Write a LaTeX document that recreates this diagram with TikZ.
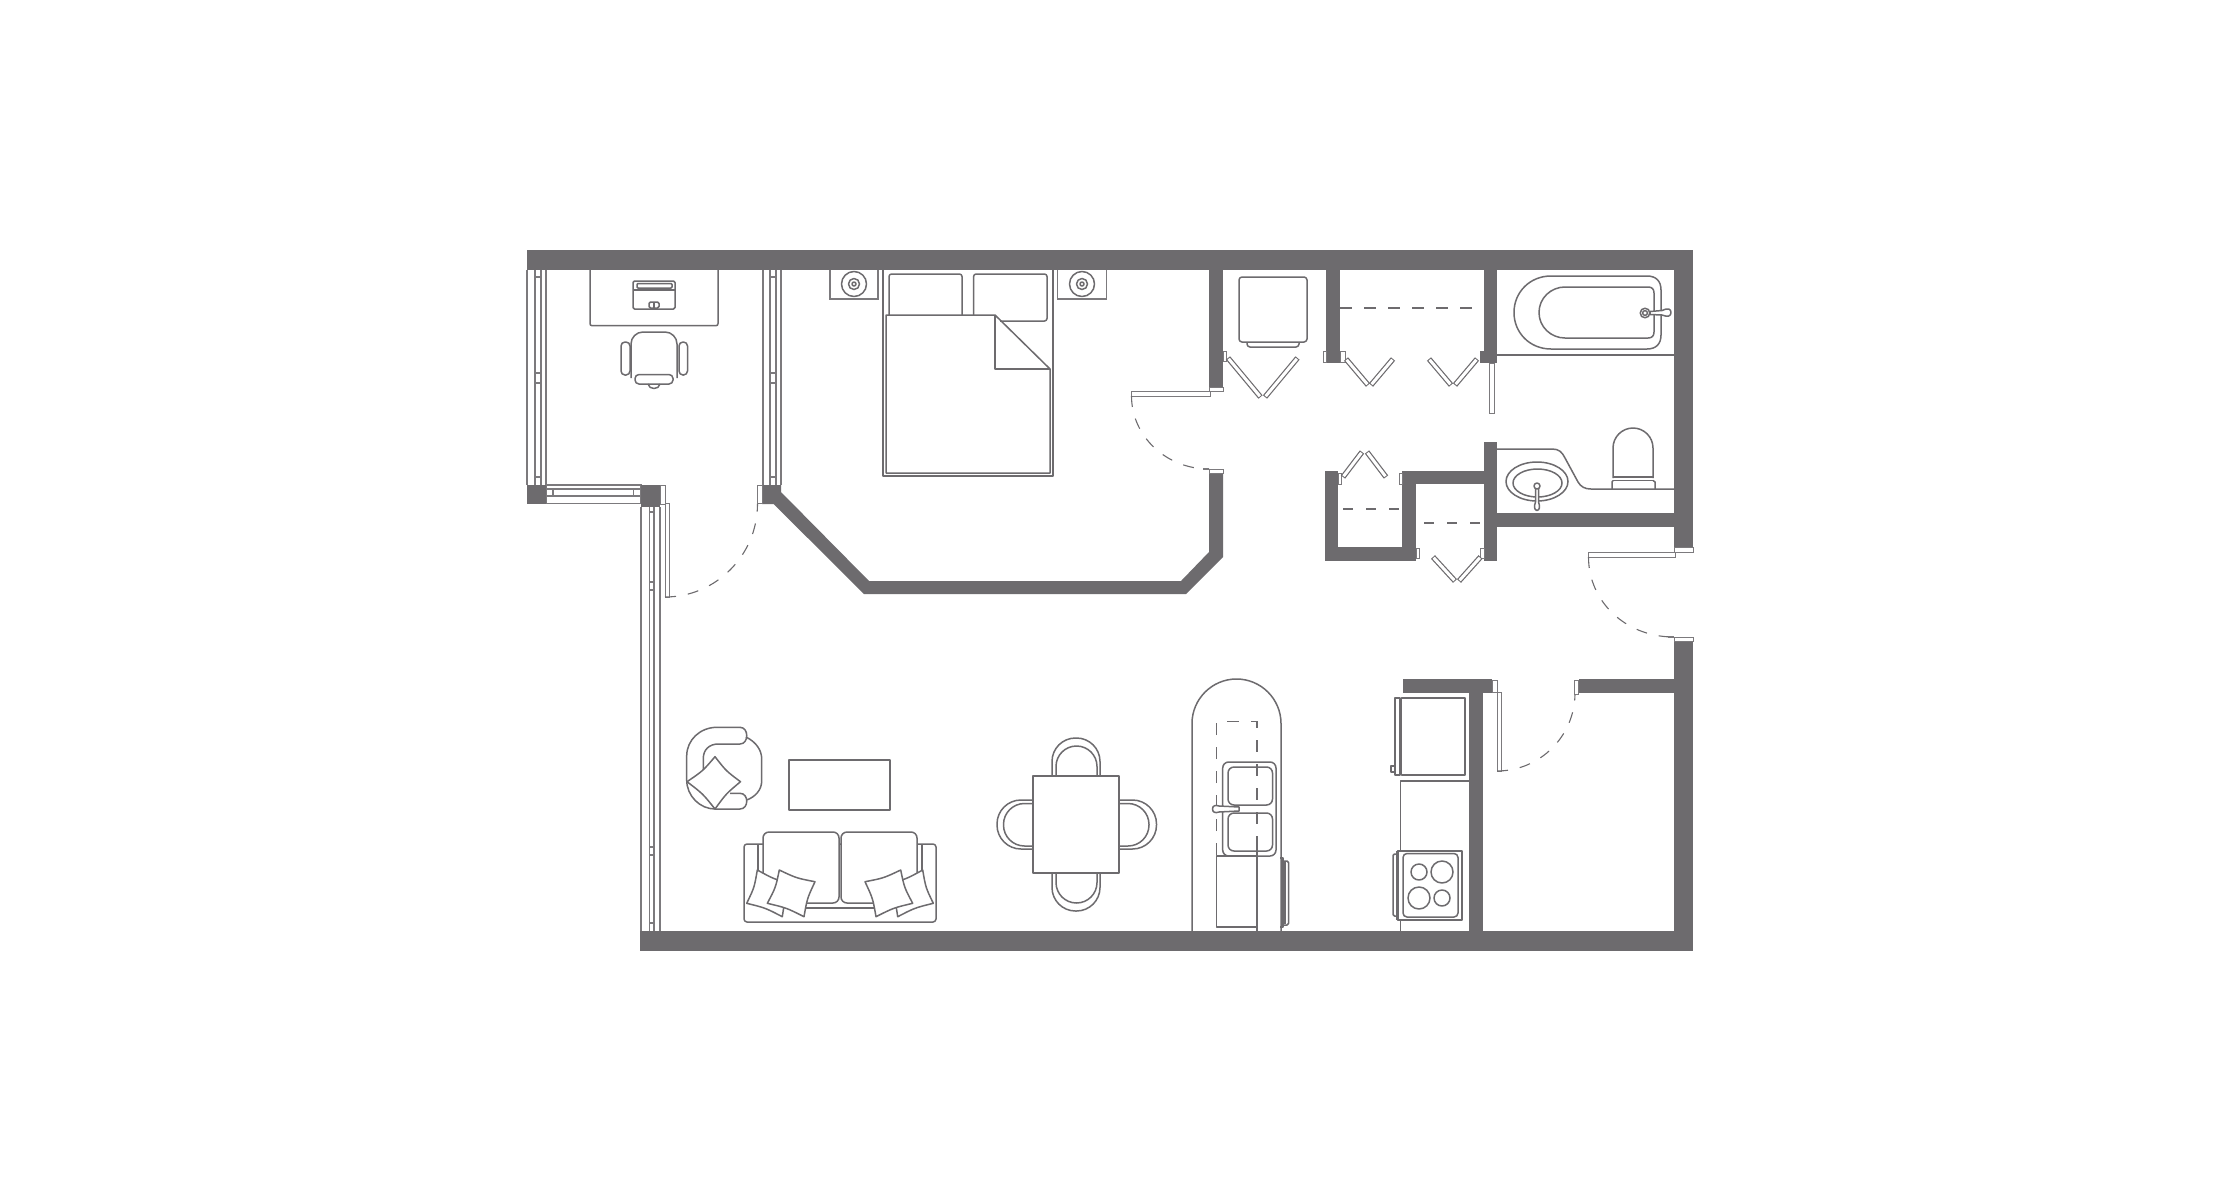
\documentclass[tikz,border=0pt]{standalone}
\usetikzlibrary{calc}
\definecolor{wallc}{HTML}{6D6B6E}
\tikzset{
  wall/.style={fill=wallc,draw=none},
  ln/.style={draw=wallc,line width=1.5pt,line join=round},
  thinl/.style={draw=wallc!90,line width=1.1pt},
  capbox/.style={draw=wallc!90,line width=1pt,fill=white},
  swing/.style={draw=wallc,line width=1.1pt,dash pattern=on 11pt off 12pt},
  hid/.style={draw=wallc,line width=1.1pt,dash pattern=on 12pt off 12pt},
  hidb/.style={draw=wallc,line width=1.7pt,dash pattern=on 10pt off 13pt},
}
\newcommand\foldp[2]{%
  \draw[wallc,line width=5.4pt] (#1) -- (#2);
  \draw[white,line width=3pt,shorten >=1pt,shorten <=1pt] (#1) -- (#2);}
\newcommand\pillowp[4]{%
  \coordinate (pc) at ($(#1)!.5!(#3)$);
  \filldraw[ln,fill=white]
    (#1) .. controls ($($(#1)!.5!(#2)$)!.13!(pc)$) .. (#2)
         .. controls ($($(#2)!.5!(#3)$)!.13!(pc)$) .. (#3)
         .. controls ($($(#3)!.5!(#4)$)!.13!(pc)$) .. (#4)
         .. controls ($($(#4)!.5!(#1)$)!.13!(pc)$) .. cycle;}
\newcommand\lamp[1]{%
  \begin{scope}[shift={(#1)}]
   \draw[ln] (0,0) circle[radius=12.5pt];
   \draw[ln] (0,0) circle[radius=5.5pt];
   \draw[ln] (0,0) circle[radius=2pt];
  \end{scope}}
\begin{document}
\begin{tikzpicture}[x=1pt,y=-1pt]
\useasboundingbox (0,0) rectangle (2220,1200);
\fill[white] (0,0) rectangle (2220,1200);

% ---------- windows
\foreach \a/\b/\c/\d in {527/535/541/546,763/770/776/781}{
  \draw[thinl] (\a,270) -- (\a,485) (\b,270) -- (\b,485) (\c,270) -- (\c,485) (\d,270) -- (\d,485);
  \foreach \y in {277,373,383,477}{\draw[thinl] (\b,\y) -- (\c,\y);}
}
\draw[thinl] (546,485) rectangle (641,503.5);
\draw[thinl] (546,489) -- (641,489) (546,496) -- (641,496) (553,489) -- (553,496) (633.6,489) -- (633.6,496);
\draw[thinl] (641,507) -- (641,931) (649.5,507) -- (649.5,931) (654,507) -- (654,931) (660,507) -- (660,931);
\foreach \y in {512,582,590,847,855,923}{\draw[thinl] (649.5,\y) -- (654,\y);}

% ---------- walls
\fill[wall] (527,250) rectangle (1693,270);
\fill[wall] (1674,270) rectangle (1693,547);
\fill[wall] (527,485) rectangle (546,504);
\fill[wall] (641,485) rectangle (660,507);
\fill[wall] (762,485) -- (781,485) -- (781,492) -- (869,581) -- (1181,581) -- (1209,552) -- (1209,473)
   -- (1223,473) -- (1223,557) -- (1186,594) -- (864,594) -- (773.6,504) -- (762,504) -- cycle;
\fill[wall] (1209,270) rectangle (1223,387);
\fill[wall] (1326,270) rectangle (1340,363);
\fill[wall] (1484,270) rectangle (1497,363);
\fill[wall] (1480,351) rectangle (1484,363);
\fill[wall] (1484,442) rectangle (1497,561);
\fill[wall] (1402,471) rectangle (1484,484);
\fill[wall] (1402,471) rectangle (1416,561);
\fill[wall] (1325,547) rectangle (1416,561);
\fill[wall] (1325,471) rectangle (1338,561);
\fill[wall] (1497,513) rectangle (1674,527);
\fill[wall] (1674,641) rectangle (1693,951);
\fill[wall] (640,931) rectangle (1693,951);
\fill[wall] (1403,679) rectangle (1492,693);
\fill[wall] (1469,693) rectangle (1482.5,931);
\fill[wall] (1578.6,679) rectangle (1674,693);

% ---------- door caps and leaves
\draw[capbox] (660,485) rectangle (665,504);
\draw[capbox] (665,503.5) rectangle (669.5,597);
\draw[capbox] (757.5,485) rectangle (762,503.5);
\draw[swing] (665,597) .. controls (716,597) and (757.5,555) .. (757.5,504);

\draw[capbox] (1209,387) rectangle (1223,391);
\draw[capbox] (1131.5,391) rectangle (1210.5,396);
\draw[swing] (1131.5,396) .. controls (1131.5,436) and (1166,469) .. (1209,469);
\draw[capbox] (1209,469) rectangle (1223,473);
\draw[thinl] (1203,469) -- (1209,469);

\draw[capbox] (1674,547) rectangle (1693,552);
\draw[capbox] (1588.5,552) rectangle (1675,557);
\draw[swing] (1588.5,557) .. controls (1588.5,601) and (1625,637) .. (1674,637);
\draw[capbox] (1674,637) rectangle (1693,641);
\draw[thinl] (1668,637) -- (1674,637);

\draw[capbox] (1492,680) rectangle (1497,692.5);
\draw[capbox] (1497,692.5) rectangle (1501.5,771);
\draw[swing] (1497,771) .. controls (1540,771) and (1575,736) .. (1575,693);
\draw[capbox] (1574,680) rectangle (1578.6,694);

\draw[capbox] (1489,363) rectangle (1494,413);

% ---------- closet bifold doors
\draw[capbox] (1223,351) rectangle (1226,361);
\draw[capbox] (1323,351) rectangle (1326,362);
\draw[capbox] (1340,351) rectangle (1345,362);
\draw[capbox] (1338,473) rectangle (1341,484);
\draw[capbox] (1399.5,473) rectangle (1402,484);
\draw[capbox] (1416,548) rectangle (1419,558);
\draw[capbox] (1480.5,548) rectangle (1484,558);
\foldp{1228,358}{1260.5,397}
\foldp{1297.5,358}{1265,397}
\foldp{1346,359}{1368,385}
\foldp{1393,359}{1371,385}
\foldp{1429,359}{1451,385}
\foldp{1477,359}{1455,385}
\foldp{1343,477}{1362,452}
\foldp{1386,477}{1367,452}
\foldp{1433,557}{1455,581}
\foldp{1480.5,557}{1459,581}
\draw[hid] (1340,308) -- (1484,308);
\draw[hidb] (1343,509) -- (1402,509);
\draw[hidb] (1424,523) -- (1484,523);

% ---------- closet box
\draw[ln,rounded corners=3pt] (1239,277) rectangle (1307,342);
\draw[ln,rounded corners=3pt] (1247,342) -- (1247,347) -- (1299,347) -- (1299,342);

% ---------- bath
\draw[draw=wallc,line width=1.3pt] (1497,355) -- (1674,355);
\draw[ln] (1551,276) -- (1647,276) .. controls (1656,276) and (1661,281) .. (1661,290) -- (1661,335)
   .. controls (1661,344) and (1656,349) .. (1647,349) -- (1551,349)
   .. controls (1530,349) and (1514,333) .. (1514,312.5) .. controls (1514,292) and (1530,276) .. (1551,276) -- cycle;
\draw[ln] (1565,287) -- (1648,287) .. controls (1652,287) and (1654,289) .. (1654,293) -- (1654,332)
   .. controls (1654,336) and (1652,338) .. (1648,338) -- (1565,338)
   .. controls (1551,338) and (1539,327) .. (1539,312.5) .. controls (1539,298) and (1551,287) .. (1565,287) -- cycle;
\draw[ln,fill=white] (1645,313) circle[radius=4.8pt];
\draw[ln] (1645,313) circle[radius=2.4pt];
\draw[ln,fill=white] (1650,311.5) -- (1662,310.5) .. controls (1668,307.5) and (1671,309) .. (1671,312.5)
   .. controls (1671,316) and (1668,317.5) .. (1662,315) -- (1650,314.5) -- cycle;
% counter, basin, toilet
\draw[ln] (1497,449) -- (1552,449) .. controls (1559,449) and (1562,452) .. (1565,458) -- (1578,482)
   .. controls (1581,487) and (1585,489) .. (1591,489) -- (1674,489);
\draw[ln] (1537,481.5) ellipse[x radius=31pt,y radius=19.5pt];
\draw[ln] (1537.5,483) ellipse[x radius=24.5pt,y radius=14pt];
\draw[ln,fill=white] (1535.5,488) -- (1535.5,502) .. controls (1534,506) and (1534,510) .. (1537,510.5)
   .. controls (1540,510) and (1540,506) .. (1538.5,502) -- (1538.5,488) -- cycle;
\draw[ln,fill=white] (1537,486) circle[radius=3pt];
\draw[ln] (1613,478) -- (1613,448) .. controls (1613,437) and (1622,428) .. (1633,428)
   .. controls (1644,428) and (1653,437) .. (1653,448) -- (1653,478);
\draw[ln] (1613,477) -- (1653,477) (1613,480.5) -- (1653,480.5);
\draw[ln] (1612,489) -- (1612,482) -- (1613,480.5) (1655,489) -- (1655,482) -- (1653,480.5);

% ---------- bedroom
\draw[ln] (883,270) -- (883,476) -- (1053,476) -- (1053,270);
\draw[ln,rounded corners=2.5pt] (889,315) -- (889,274) -- (962,274) -- (962,315);
\draw[ln,rounded corners=2.5pt] (973.6,315) -- (973.6,274) -- (1047,274) -- (1047,321) -- (1000,321);
\draw[ln] (886,315) -- (995,315) -- (1050,369) -- (1050,473) -- (886,473) -- cycle;
\draw[ln] (995,315) -- (995,369) -- (1050,369);
\draw[thinl] (830,270) -- (830,299) -- (878,299) -- (878,270);
\draw[thinl] (1057.5,270) -- (1057.5,299) -- (1106.6,299) -- (1106.6,270);
\lamp{854,284}
\lamp{1082,284}

% ---------- desk
\draw[ln,rounded corners=2pt] (590,270) -- (590,325.7) -- (718,325.7) -- (718,270);
\draw[ln,rounded corners=1.5pt] (633,281) rectangle (675,309);
\draw[ln,rounded corners=1pt] (637,283.5) rectangle (672,288);
\draw[ln] (633,290) -- (675,290);
\draw[ln,rounded corners=1.5pt] (649,302) rectangle (659,308);
\draw[ln] (654,302) -- (654,308);
\draw[ln,rounded corners=12pt] (631,378) -- (631,332) -- (677,332) -- (677,378);
\draw[ln,rounded corners=4pt] (621,342) rectangle (630,375);
\draw[ln,rounded corners=4pt] (679,342) rectangle (687.5,375);
\draw[ln,fill=white,rounded corners=4pt] (635,374.5) rectangle (673,384);
\draw[ln] (648,384) .. controls (649,390) and (659,390) .. (660,384);

% ---------- armchair
\draw[ln] (740,744) -- (718.3,744) .. controls (709,744) and (703.3,750) .. (703.3,758.3) -- (703.3,772);
\draw[ln] (746,737) .. controls (756,742) and (761.7,750) .. (761.7,759) -- (761.7,781)
   .. controls (761.7,790) and (755,797) .. (746.7,800);
\draw[ln] (740,727.3) -- (717,727.3) .. controls (700,727.3) and (686.7,740) .. (686.7,756) -- (686.7,780)
   .. controls (686.7,796) and (700,809) .. (715,809) -- (740,809)
   .. controls (749,809) and (749,793.3) .. (740,793.3) -- (730,793.3);
\draw[ln] (740,727.3) .. controls (749,727.3) and (749,744) .. (740,744);
\pillowp{715,756.7}{740.5,781.7}{715,809}{687,781.7}

\draw[ln] (789,760) rectangle (890,810);

% ---------- sofa
\draw[ln,rounded corners=3pt] (744,844) rectangle (936,922);
\draw[ln] (758,844) -- (758,870) (922,844) -- (922,870);
\draw[ln,fill=white,rounded corners=6pt] (763,903) -- (763,832) -- (839,832) -- (839,903) -- cycle;
\draw[ln,fill=white,rounded corners=6pt] (841,903) -- (841,832) -- (917,832) -- (917,903) -- cycle;
\draw[ln] (800,908) -- (880,908);
\pillowp{757.3,870}{792,884}{782.3,916.7}{746.7,903.3}
\pillowp{779.3,870}{815,881.7}{804,916.7}{767.3,903.3}
\pillowp{922.7,870}{888,884}{897.7,916.7}{933.3,903.3}
\pillowp{900.7,870}{865,881.7}{876,916.7}{912.7,903.3}

% ---------- dining
\draw[ln,rounded corners=23.5pt] (1052,776) -- (1052,738) -- (1100,738) -- (1100,776);
\draw[ln,rounded corners=20.5pt] (1056,776) -- (1056,746) -- (1097,746) -- (1097,776);
\draw[ln,rounded corners=23.5pt] (1052,873) -- (1052,911) -- (1100,911) -- (1100,873);
\draw[ln,rounded corners=20.5pt] (1056,873) -- (1056,903) -- (1097,903) -- (1097,873);
\draw[ln,rounded corners=24pt] (1033,800) -- (997,800) -- (997,849) -- (1033,849);
\draw[ln,rounded corners=21pt] (1033,803.5) -- (1003.5,803.5) -- (1003.5,846) -- (1033,846);
\draw[ln,rounded corners=24pt] (1119,800) -- (1156.5,800) -- (1156.5,849) -- (1119,849);
\draw[ln,rounded corners=21pt] (1119,803.5) -- (1149,803.5) -- (1149,846) -- (1119,846);
\draw[ln] (1033,776) rectangle (1119,873);

% ---------- island
\draw[ln] (1192,931) -- (1192,723.5) .. controls (1192,699) and (1212,679) .. (1236.5,679)
   .. controls (1261,679) and (1281,699) .. (1281,723.5) -- (1281,931);
\draw[ln,rounded corners=6pt] (1222.7,762) rectangle (1276,856);
\draw[ln,rounded corners=6pt] (1228,767) rectangle (1272.5,805);
\draw[ln,rounded corners=6pt] (1228,813) rectangle (1272.5,851);
\draw[hid] (1216.7,855) -- (1216.7,721.7) -- (1257,721.7) -- (1257,848);
\draw[ln] (1257,848) -- (1257,931);
\draw[ln] (1257,856) -- (1216.7,856) -- (1216.7,927) -- (1257,927);
\draw[ln,fill=white] (1219,806) .. controls (1215,804.5) and (1212.5,806) .. (1212.5,809)
   .. controls (1212.5,812) and (1215,813.5) .. (1219,812) -- (1239,811) -- (1239,807) -- cycle;
\draw[ln] (1280,858) -- (1283,858) -- (1283,927) -- (1280,927);
\draw[ln,rounded corners=1.5pt] (1283,861) -- (1288.5,861) -- (1288.5,925) -- (1283,925);
\draw[ln] (1285,862) -- (1285,924);

% ---------- kitchen
\draw[ln] (1401.5,698) rectangle (1465,775);
\draw[ln] (1395,698) rectangle (1400,775);
\draw[ln] (1391,766) rectangle (1395,772);
\draw[ln] (1469,781) -- (1400.5,781) -- (1400.5,931);
\draw[ln,fill=white] (1397.5,851) rectangle (1462,920);
\draw[ln,rounded corners=4pt] (1403,853.5) rectangle (1458,917);
\draw[ln,line width=2.2pt] (1397.5,851) -- (1397.5,920);
\draw[ln,rounded corners=1.5pt] (1397,854) -- (1393,854) -- (1393,916) -- (1397,916);
\draw[ln] (1419,872) circle[radius=8pt];
\draw[ln] (1442,872) circle[radius=11pt];
\draw[ln] (1419,898) circle[radius=11pt];
\draw[ln] (1442,898) circle[radius=8pt];
\end{tikzpicture}
\end{document}
